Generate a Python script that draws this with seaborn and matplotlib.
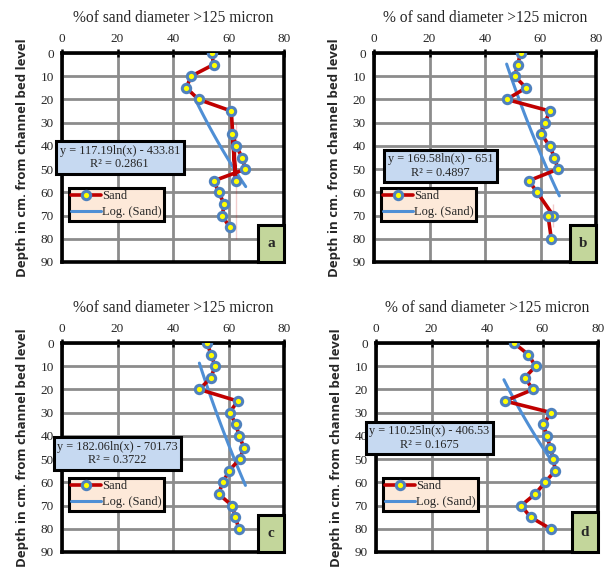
import numpy as np
import pandas as pd
import matplotlib
matplotlib.use('Agg')
import matplotlib.pyplot as plt
from matplotlib.patches import Rectangle
import seaborn as sns

# depth below channel bed (cm), same for all four profiles
depth = [0, 5, 10, 15, 20, 25, 30, 35, 40, 45, 50, 55, 60, 65, 70, 75, 80]

# % of sand with diameter > 125 micron
sand_a = [54.0, 54.6, 46.5, 44.8, 49.2, 61.0, 62.6, 61.4, 62.8, 64.9, 66.1, 54.8, 56.4, 58.5, 57.7, 60.4, 62.6]
sand_b = [52.8, 51.8, 50.7, 54.8, 47.8, 63.4, 61.6, 60.3, 63.3, 65.0, 66.3, 55.8, 58.8, 64.6, 62.7, 64.6, 63.9]
sand_c = [52.3, 53.7, 55.2, 53.6, 49.5, 63.3, 60.4, 62.7, 63.8, 65.6, 64.0, 60.2, 58.0, 56.4, 61.3, 62.5, 63.7]
sand_d = [49.7, 54.9, 57.5, 53.6, 56.6, 46.5, 63.2, 60.3, 61.6, 62.8, 63.9, 64.6, 60.9, 57.4, 52.3, 55.7, 62.9]

# log trendline: depth = k*ln(x) + c
trend_k = [117.19, 169.58, 182.06, 110.25]
trend_c = [-433.81, -651.0, -701.73, -406.53]
trend_lo = [48.4, 47.8, 49.5, 46.1]
trend_hi = [66.2, 66.8, 66.1, 64.4]
eq_text = ['y = 117.19ln(x) - 433.81\nR² = 0.2861',
           'y = 169.58ln(x) - 651\nR² = 0.4897',
           'y = 182.06ln(x) - 701.73\nR² = 0.3722',
           'y = 110.25ln(x) - 406.53\nR² = 0.1675']
titles = ['%of sand diameter >125 micron', '% of sand diameter >125 micron',
          '%of sand diameter >125 micron', '% of sand diameter >125 micron']
panel_tags = ['a', 'b', 'c', 'd']

x_ticks = [0, 20, 40, 60, 80]
y_ticks = [0, 10, 20, 30, 40, 50, 60, 70, 80, 90]

serif = 'Liberation Serif'

W, H = 606, 567
fig = plt.figure(figsize=(W / 100, H / 100), dpi=100)
sns.set_style('white')

# axes boxes in pixels: left, top, width, height
boxes = [(62, 53, 222, 209), (374, 53, 222, 209), (62, 343, 222, 209), (376, 343, 222, 209)]
eq_pos = [(0.26, 0.50), (0.30, 0.46), (0.25, 0.47), (0.24, 0.545)]
tag_h = [0.177, 0.177, 0.177, 0.19]

series = [sand_a, sand_b, sand_c, sand_d]

for i in range(4):
    l, t, w, h = boxes[i]
    ax = fig.add_axes([l / W, 1 - (t + h) / H, w / W, h / H])
    df = pd.DataFrame({'pct': series[i], 'depth': depth})

    sns.lineplot(data=df, x='pct', y='depth', sort=False, ax=ax, color='#c00000', lw=2.6,
                 marker='o', markersize=6, markerfacecolor='#ffff00',
                 markeredgecolor='#4f81bd', markeredgewidth=2.2, label='Sand', zorder=4)

    xt = np.linspace(trend_lo[i], trend_hi[i], 60)
    tr = pd.DataFrame({'pct': xt, 'depth': trend_k[i] * np.log(xt) + trend_c[i]})
    sns.lineplot(data=tr, x='pct', y='depth', sort=False, ax=ax, color='#4f8fd5', lw=2.2,
                 label='Log. (Sand)', zorder=3)

    ax.set_xlim(0, 80)
    ax.set_ylim(90, 0)
    ax.set_xticks(x_ticks)
    ax.set_yticks(y_ticks)
    ax.xaxis.tick_top()
    ax.tick_params(axis='both', direction='inout', length=6, width=1.8, color='black',
                   labelsize=9.5, pad=3)
    for lab in ax.get_xticklabels() + ax.get_yticklabels():
        lab.set_fontfamily(serif)
    ax.grid(True, color='#8c8c8c', lw=2)
    ax.set_axisbelow(True)
    for s in ax.spines.values():
        s.set_color('black')
        s.set_linewidth(2.6)
        s.set_visible(True)

    ax.set_xlabel('')
    ax.set_title(titles[i], fontfamily=serif, fontsize=11.2, pad=8)
    ax.set_ylabel('Depth in cm. from channel bed level', fontfamily='Open Sans',
                  fontweight='bold', fontsize=9.5, labelpad=8)

    leg = ax.legend(loc='upper left', bbox_to_anchor=(0.03, 0.355), frameon=True,
                    fancybox=False, prop={'family': serif, 'size': 9}, handlelength=2.4,
                    handletextpad=0.05, borderpad=0.2, labelspacing=0.3, borderaxespad=0)
    leg.get_frame().set_facecolor('#fde9d9')
    leg.get_frame().set_edgecolor('black')
    leg.get_frame().set_linewidth(2.2)
    leg.get_frame().set_alpha(1)

    ax.text(eq_pos[i][0], eq_pos[i][1], eq_text[i], transform=ax.transAxes, ha='center',
            va='center', fontfamily=serif, fontsize=8.8, linespacing=1.15, zorder=6,
            bbox=dict(boxstyle='square,pad=0.3', fc='#c6d9f1', ec='black', lw=2.2))

    ax.add_patch(Rectangle((0.883, 0), 0.117, tag_h[i], transform=ax.transAxes,
                           fc='#c3d69b', ec='black', lw=2.2, zorder=6, clip_on=False))
    ax.text(0.9415, tag_h[i] / 2, panel_tags[i], transform=ax.transAxes, ha='center',
            va='center', fontfamily=serif, fontweight='bold', fontsize=11, zorder=7)

fig.savefig('out.png', dpi=100)
